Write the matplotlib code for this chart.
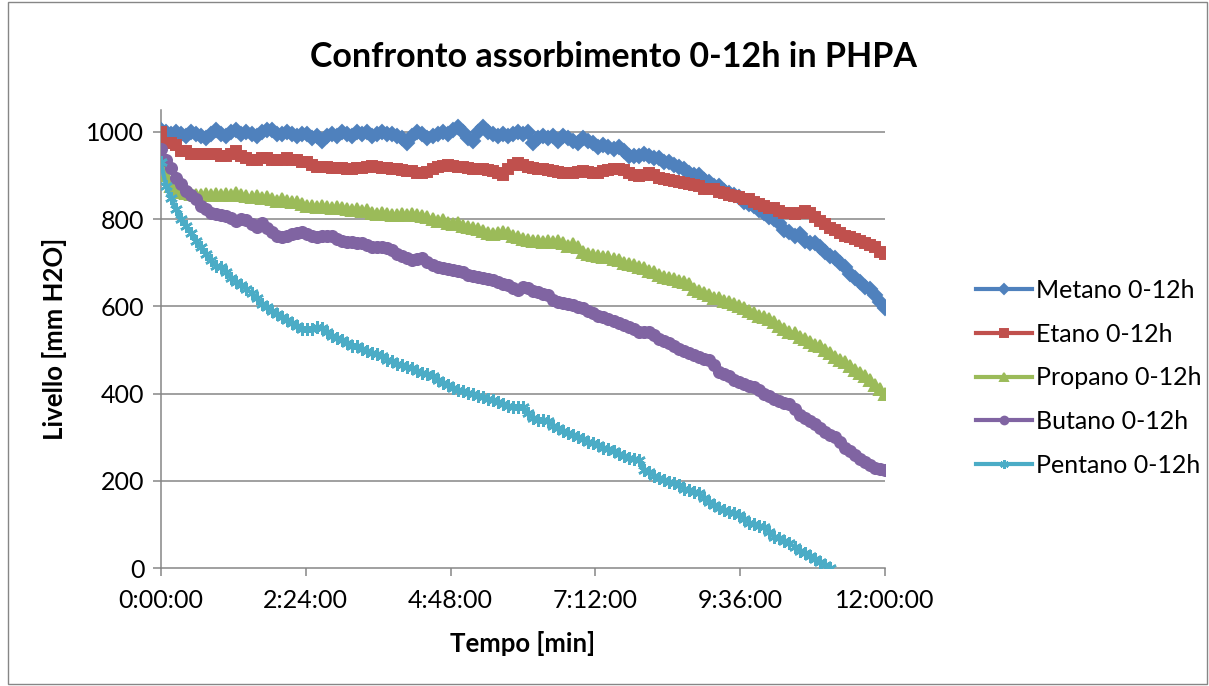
import matplotlib
matplotlib.use("Agg")
import matplotlib.pyplot as plt
from matplotlib.patches import Rectangle

plt.rcParams['font.family'] = ['Lato', 'DejaVu Sans']

# Time axis: readings every 5 minutes
step_min = 5

metano = [
    1005, 1000, 995, 1000, 995, 990, 1000, 995, 990, 985,
    995, 1005, 995, 990, 1000, 1005, 995, 1000, 995, 990,
    1000, 1005, 1005, 995, 995, 1000, 995, 990, 995, 995,
    985, 990, 980, 990, 995, 990, 1000, 995, 990, 1000,
    995, 1000, 990, 995, 1000, 995, 995, 990, 985, 975,
    990, 1000, 995, 985, 990, 995, 1000, 995, 1005, 1010,
    1000, 985, 980, 1000, 1010, 1000, 995, 990, 995, 990,
    995, 1000, 995, 1000, 975, 985, 990, 985, 990, 980,
    990, 985, 980, 975, 985, 980, 975, 965, 970, 965,
    960, 965, 955, 945, 945, 945, 950, 945, 940, 940,
    930, 930, 925, 920, 915, 905, 900, 900, 890, 885,
    875, 875, 865, 860, 855, 850, 840, 835, 830, 820,
    815, 805, 800, 790, 775, 770, 760, 765, 750, 745,
    745, 735, 725, 715, 710, 700, 690, 675, 665, 655,
    645, 640, 625, 610, 595,
]

etano = [
    1000, 975, 975, 970, 955, 955, 950, 950, 950, 950,
    948, 948, 945, 945, 950, 955, 945, 940, 935, 935,
    940, 940, 935, 935, 935, 940, 935, 935, 930, 930,
    925, 920, 920, 920, 918, 918, 918, 915, 915, 918,
    918, 920, 922, 920, 918, 918, 915, 915, 912, 910,
    910, 905, 905, 908, 915, 920, 922, 925, 922, 920,
    920, 918, 915, 915, 915, 912, 910, 905, 902, 915,
    925, 928, 925, 920, 918, 915, 915, 912, 910, 908,
    905, 905, 905, 908, 910, 908, 905, 905, 910, 912,
    915, 915, 912, 905, 900, 898, 900, 905, 900, 895,
    892, 890, 888, 885, 882, 880, 878, 875, 870, 870,
    868, 862, 860, 855, 852, 850, 845, 845, 840, 835,
    830, 825, 825, 818, 815, 815, 812, 815, 818, 815,
    805, 795, 788, 780, 775, 768, 762, 758, 755, 750,
    745, 740, 735, 725, 720,
]

propano = [
    940, 900, 875, 868, 862, 860, 858, 855, 856, 858,
    855, 858, 855, 858, 855, 860, 855, 852, 850, 852,
    848, 850, 845, 842, 845, 842, 838, 838, 835, 830,
    830, 828, 830, 828, 825, 828, 825, 822, 820, 822,
    818, 820, 815, 812, 815, 812, 810, 810, 812, 810,
    812, 810, 808, 805, 800, 795, 798, 790, 788, 790,
    785, 782, 780, 778, 772, 768, 765, 768, 770, 768,
    762, 758, 755, 752, 750, 750, 748, 750, 748, 750,
    745, 738, 742, 735, 725, 720, 718, 715, 712, 712,
    708, 705, 700, 698, 695, 690, 688, 682, 678, 672,
    668, 665, 662, 658, 655, 652, 640, 635, 630, 625,
    620, 618, 612, 610, 605, 600, 595, 590, 585, 578,
    575, 570, 565, 555, 548, 542, 538, 530, 525, 518,
    512, 508, 500, 492, 484, 478, 472, 462, 455, 448,
    440, 430, 420, 410, 400,
]

butano = [
    960, 935, 918, 895, 880, 865, 855, 845, 830, 822,
    815, 812, 810, 808, 802, 795, 800, 798, 788, 782,
    790, 780, 770, 760, 758, 762, 765, 768, 770, 765,
    760, 758, 760, 762, 760, 755, 750, 748, 748, 746,
    745, 740, 735, 735, 735, 733, 730, 720, 715, 710,
    705, 708, 710, 702, 695, 690, 688, 685, 683, 682,
    678, 672, 670, 668, 665, 662, 660, 655, 652, 648,
    642, 638, 645, 642, 635, 632, 628, 625, 615, 610,
    608, 606, 602, 598, 595, 590, 585, 578, 575, 570,
    566, 562, 558, 552, 548, 540, 540, 540, 535, 525,
    520, 515, 508, 502, 498, 492, 488, 484, 480, 476,
    465, 450, 445, 440, 432, 426, 422, 418, 415, 408,
    400, 395, 388, 382, 378, 375, 365, 350, 345, 338,
    330, 320, 312, 305, 300, 290, 275, 268, 260, 250,
    242, 235, 230, 228, 225,
]

pentano = [
    930, 875, 848, 822, 800, 785, 768, 750, 735, 720,
    705, 692, 690, 678, 665, 655, 648, 640, 630, 618,
    605, 598, 590, 582, 575, 568, 562, 555, 548, 548,
    548, 552, 550, 540, 532, 528, 522, 515, 510, 508,
    502, 498, 494, 490, 485, 478, 474, 468, 465, 460,
    458, 452, 448, 445, 440, 432, 425, 420, 412, 408,
    405, 402, 398, 395, 392, 388, 385, 380, 376, 372,
    370, 368, 368, 355, 344, 340, 340, 338, 325, 320,
    315, 310, 305, 300, 296, 290, 286, 282, 276, 272,
    268, 262, 256, 253, 250, 248, 225, 220, 212, 206,
    202, 198, 195, 190, 182, 178, 175, 172, 160, 152,
    145, 138, 134, 128, 125, 122, 112, 104, 100, 96,
    94, 82, 72, 68, 62, 58, 48, 40, 34, 28,
    20, 14, 8, 0,
]

series_names = ["Metano 0-12h", "Etano 0-12h", "Propano 0-12h",
                "Butano 0-12h", "Pentano 0-12h"]
series_values = [metano, etano, propano, butano, pentano]
series_colors = ["#4F81BD", "#C0504D", "#9BBB59", "#8064A2", "#4BACC6"]
series_markers = ["D", "s", "^", "o", (6, 2, 0)]
series_msizes = [7, 7.5, 8.5, 8, 9]
series_medge = [1.4, 1.4, 1.4, 1.4, 1.8]

xtick_minutes = [0, 144, 288, 432, 576, 720]
xtick_labels = ["0:00:00", "2:24:00", "4:48:00", "7:12:00", "9:36:00", "12:00:00"]
ytick_values = [0, 200, 400, 600, 800, 1000]

W, H = 1209, 686
fig = plt.figure(figsize=(W / 100, H / 100), dpi=100)
fig.patch.set_facecolor("white")

# Chart area border
fig.add_artist(Rectangle((8 / W, 2 / H), (W - 10) / W, (H - 4) / H,
                         transform=fig.transFigure, fill=False,
                         edgecolor="#868686", linewidth=1.0))

ax = fig.add_axes([161 / W, 1 - 568 / H, (885 - 161) / W, (568 - 110) / H])

grid_color = "#868686"
for v in ytick_values[1:]:
    ax.axhline(v, color=grid_color, linewidth=1.1, zorder=1)

for name, vals, col, mk, ms, mew in zip(series_names, series_values, series_colors,
                                        series_markers, series_msizes, series_medge):
    t = [i * step_min for i in range(len(vals))]
    ax.plot(t, vals, color=col, linewidth=3.0, marker=mk, markersize=ms,
            markerfacecolor=col, markeredgecolor=col, markeredgewidth=mew,
            label=name, zorder=3, solid_joinstyle="round")

ax.set_xlim(0, 720)
ax.set_ylim(0, 1050)
ax.set_xticks(xtick_minutes)
ax.set_xticklabels(xtick_labels)
ax.set_yticks(ytick_values)
ax.tick_params(axis="both", direction="out", length=6, width=1.1,
               color=grid_color, labelsize=18, labelcolor="black")
ax.tick_params(axis="x", pad=9)
ax.tick_params(axis="y", pad=6)

for side in ("top", "right"):
    ax.spines[side].set_visible(False)
for side in ("left", "bottom"):
    ax.spines[side].set_color(grid_color)
    ax.spines[side].set_linewidth(1.1)
ax.set_facecolor("white")

ax.set_xlabel("Tempo [min]", fontsize=18.5, fontweight="bold", labelpad=14)
ax.set_ylabel("Livello [mm H2O]", fontsize=18.5, fontweight="bold", labelpad=14)

fig.text(614 / W, 1 - 57 / H, "Confronto assorbimento 0-12h in PHPA",
         ha="center", va="center", fontsize=24.5, fontweight="bold")

fig.legend(loc="center left", bbox_to_anchor=(966 / W, 1 - 378 / H),
           frameon=False, fontsize=18, handlelength=2.25, handletextpad=0.15,
           labelspacing=0.83, borderaxespad=0, markerscale=0.7)

fig.savefig("out.png", dpi=100, facecolor="white")
